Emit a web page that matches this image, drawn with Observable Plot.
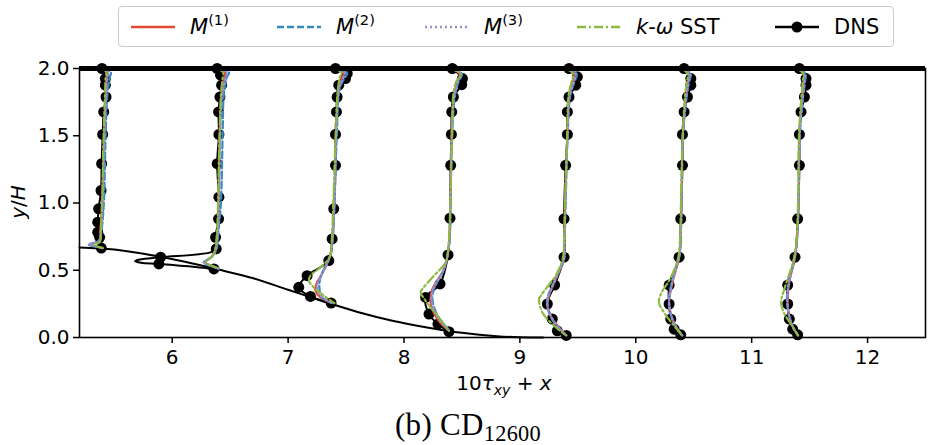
<!DOCTYPE html>
<html><head><meta charset="utf-8">
<script src="https://cdn.jsdelivr.net/npm/d3@7"></script>
<script src="https://cdn.jsdelivr.net/npm/@observablehq/plot@0.6"></script>
<style>
body{margin:0;background:#fff;font-family:"DejaVu Sans",sans-serif;}
#wrap{position:relative;width:930px;height:445px;overflow:hidden;background:#fff;}
#legend{position:absolute;left:118px;top:6px;width:776px;height:41px;border:1px solid #cccccc;border-radius:4px;box-sizing:border-box;background:#fff;}
.item{position:absolute;top:0;height:39px;display:flex;align-items:center;font-size:21px;color:#000;white-space:nowrap;}
.item svg{margin-right:15px;}
.sup{font-size:0.7em;position:relative;top:-0.55em;}
#chart{position:absolute;left:0;top:52px;}
#caption{position:absolute;left:0;width:936px;top:409px;line-height:31px;text-align:center;font-family:"Liberation Serif","DejaVu Serif",serif;font-size:31px;color:#000;letter-spacing:0.3px;}
#caption sub{font-size:0.72em;vertical-align:-0.28em;line-height:0;}
</style></head><body>
<div id="wrap"><div id="legend"></div><div id="chart"></div><div id="caption">(b) CD<sub>12600</sub></div></div>
<script>
// ---- data ----
const stations = [5.4, 6.4, 7.4, 8.4, 9.4, 10.4, 11.4];
const xTicks = [6, 7, 8, 9, 10, 11, 12];
const yTicks = [0, 0.5, 1, 1.5, 2];

// lower-wall geometry
const bumpX = [5.2, 5.5, 5.8, 6.1, 6.4, 6.7, 7.0, 7.3, 7.6, 7.9, 8.2, 8.5, 8.8, 9.0, 9.2];
const bumpY = [0.67, 0.655, 0.615, 0.565, 0.505, 0.44, 0.355, 0.27, 0.19, 0.125, 0.075, 0.035, 0.01, 0.002, 0];

// DNS profiles: [y, 10*tau_xy, marker]
const dnsProfiles = [
 [[2.0,-0.006,1],[1.925,0.023,1],[1.876,0.023,1],[1.788,0.029,1],[1.677,0.009,1],[1.51,0.0,1],[1.292,-0.009,1],[1.093,-0.014,1],[0.957,-0.035,1],[0.857,-0.043,1],[0.782,-0.043,1],[0.745,-0.026,1],[0.665,-0.012,1]],
 [[2.0,-0.012,1],[1.95,0.017,1],[1.876,0.026,1],[1.788,0.012,1],[1.677,0.0,1],[1.51,0.003,1],[1.292,-0.012,1],[1.043,0.003,1],[0.882,0.0,1],[0.745,-0.026,1],[0.659,-0.02,1],[0.633,-0.07,0],[0.597,-0.5,1],[0.58,-0.68,0],[0.568,-0.72,0],[0.556,-0.67,0],[0.547,-0.515,1],[0.525,-0.2,0],[0.51,-0.04,1]],
 [[2.0,0.009,1],[1.963,0.11,1],[1.925,0.095,1],[1.876,0.037,1],[1.788,0.023,1],[1.677,0.017,1],[1.51,0.009,1],[1.28,0.009,1],[0.957,-0.006,1],[0.733,-0.02,1],[0.572,-0.049,1],[0.46,-0.236,1],[0.373,-0.308,1],[0.305,-0.207,1],[0.256,-0.029,1]],
 [[2.0,0.017,1],[1.925,0.104,1],[1.88,0.098,1],[1.788,0.026,1],[1.677,0.012,1],[1.51,0.009,1],[1.28,0.003,1],[0.887,-0.003,1],[0.614,-0.02,1],[0.398,-0.089,1],[0.298,-0.213,1],[0.174,-0.184,1],[0.1,-0.107,1],[0.043,-0.012,1]],
 [[2.0,0.024,1],[1.938,0.096,1],[1.876,0.082,1],[1.788,0.024,1],[1.677,0.01,1],[1.51,0.01,1],[1.28,-0.005,1],[0.882,-0.019,1],[0.597,-0.019,1],[0.39,-0.1,1],[0.249,-0.163,1],[0.137,-0.12,1],[0.05,-0.077,1],[0.015,0.0,1]],
 [[2.0,0.017,1],[1.925,0.075,1],[1.876,0.075,1],[1.788,0.046,1],[1.677,0.017,1],[1.51,0.003,1],[1.28,0.003,1],[0.882,-0.012,1],[0.597,-0.026,1],[0.39,-0.112,1],[0.249,-0.112,1],[0.137,-0.098,1],[0.062,-0.069,1],[0.02,-0.012,1]],
 [[2.0,0.012,1],[1.925,0.069,1],[1.876,0.069,1],[1.788,0.055,1],[1.677,0.026,1],[1.51,0.012,1],[1.28,0.012,1],[0.882,-0.003,1],[0.597,-0.026,1],[0.39,-0.089,1],[0.249,-0.089,1],[0.137,-0.075,1],[0.062,-0.046,1],[0.02,-0.003,1]]
];

// M(1) profiles: [y, 10*tau_xy]
const m1Profiles = [
 [[2.0,-0.01],[1.975,0.04],[1.93,0.035],[1.8,0.025],[1.5,0.012],[1.0,-0.005],[0.8,-0.02],[0.72,-0.03],[0.69,-0.1],[0.678,-0.06],[0.665,0.0]],
 [[2.0,0.0],[1.97,0.06],[1.93,0.05],[1.8,0.025],[1.5,0.01],[1.0,0.0],[0.8,-0.01],[0.65,-0.03],[0.6,-0.06],[0.556,-0.12],[0.53,-0.05],[0.512,0.0]],
 [[2.0,0.0],[1.965,0.08],[1.92,0.06],[1.85,0.035],[1.5,0.012],[1.0,0.0],[0.7,-0.02],[0.6,-0.04],[0.473,-0.107],[0.398,-0.156],[0.348,-0.164],[0.298,-0.12],[0.256,-0.02]],
 [[2.0,0.0],[1.96,0.08],[1.9,0.06],[1.8,0.03],[1.5,0.01],[1.0,0.0],[0.7,-0.01],[0.51,-0.055],[0.36,-0.155],[0.26,-0.17],[0.137,-0.112],[0.05,-0.012]],
 [[2.0,0.0],[1.96,0.07],[1.9,0.06],[1.8,0.03],[1.5,0.01],[1.0,-0.01],[0.7,-0.015],[0.584,-0.019],[0.46,-0.077],[0.31,-0.149],[0.236,-0.163],[0.137,-0.12],[0.062,-0.048],[0.015,0.0]],
 [[2.0,0.0],[1.96,0.06],[1.9,0.05],[1.8,0.035],[1.5,0.005],[1.0,-0.005],[0.7,-0.015],[0.597,-0.026],[0.41,-0.083],[0.26,-0.112],[0.137,-0.083],[0.062,-0.04],[0.015,0.0]],
 [[2.0,0.0],[1.96,0.05],[1.9,0.05],[1.8,0.04],[1.5,0.012],[1.0,0.005],[0.7,-0.012],[0.597,-0.026],[0.41,-0.075],[0.26,-0.09],[0.137,-0.07],[0.062,-0.035],[0.015,0.0]]
];

// M(2) profiles
const m2Profiles = [
 [[2.0,0.0],[1.975,0.07],[1.93,0.06],[1.8,0.04],[1.5,0.025],[1.0,0.01],[0.8,-0.01],[0.72,-0.03],[0.69,-0.12],[0.678,-0.07],[0.665,0.0]],
 [[2.0,0.01],[1.97,0.09],[1.93,0.07],[1.8,0.045],[1.5,0.035],[1.0,0.02],[0.8,0.0],[0.65,-0.02],[0.6,-0.06],[0.556,-0.13],[0.53,-0.06],[0.512,0.0]],
 [[2.0,0.01],[1.965,0.11],[1.92,0.08],[1.85,0.045],[1.5,0.02],[1.0,0.0],[0.7,-0.02],[0.6,-0.04],[0.45,-0.12],[0.37,-0.13],[0.3,-0.11],[0.256,-0.02]],
 [[2.0,0.01],[1.96,0.1],[1.9,0.07],[1.8,0.04],[1.5,0.015],[1.0,0.0],[0.7,-0.01],[0.51,-0.055],[0.36,-0.141],[0.286,-0.155],[0.162,-0.11],[0.05,-0.005]],
 [[2.0,0.01],[1.96,0.09],[1.9,0.07],[1.8,0.035],[1.5,0.012],[1.0,-0.005],[0.7,-0.015],[0.584,-0.02],[0.44,-0.09],[0.3,-0.16],[0.22,-0.16],[0.12,-0.11],[0.05,-0.04],[0.015,0.0]],
 [[2.0,0.01],[1.96,0.075],[1.9,0.06],[1.8,0.04],[1.5,0.008],[1.0,-0.005],[0.7,-0.015],[0.597,-0.026],[0.41,-0.09],[0.26,-0.115],[0.137,-0.085],[0.062,-0.04],[0.015,0.0]],
 [[2.0,0.01],[1.96,0.065],[1.9,0.06],[1.8,0.045],[1.5,0.015],[1.0,0.005],[0.7,-0.012],[0.597,-0.03],[0.41,-0.08],[0.26,-0.095],[0.137,-0.07],[0.062,-0.035],[0.015,0.0]]
];

// M(3) profiles
const m3Profiles = [
 [[2.0,-0.005],[1.975,0.05],[1.93,0.04],[1.8,0.03],[1.5,0.015],[1.0,0.0],[0.8,-0.015],[0.72,-0.03],[0.69,-0.12],[0.678,-0.06],[0.665,0.0]],
 [[2.0,0.0],[1.97,0.07],[1.93,0.06],[1.8,0.03],[1.5,0.015],[1.0,0.005],[0.8,-0.005],[0.65,-0.025],[0.6,-0.06],[0.556,-0.125],[0.53,-0.05],[0.512,0.0]],
 [[2.0,0.0],[1.965,0.09],[1.92,0.07],[1.85,0.04],[1.5,0.015],[1.0,0.0],[0.7,-0.02],[0.6,-0.04],[0.46,-0.115],[0.38,-0.15],[0.32,-0.13],[0.256,-0.02]],
 [[2.0,0.0],[1.96,0.09],[1.9,0.065],[1.8,0.035],[1.5,0.012],[1.0,0.0],[0.7,-0.01],[0.51,-0.055],[0.36,-0.15],[0.27,-0.16],[0.15,-0.11],[0.05,-0.01]],
 [[2.0,0.0],[1.96,0.08],[1.9,0.065],[1.8,0.03],[1.5,0.01],[1.0,-0.008],[0.7,-0.015],[0.584,-0.02],[0.45,-0.085],[0.3,-0.155],[0.23,-0.16],[0.13,-0.115],[0.055,-0.045],[0.015,0.0]],
 [[2.0,0.0],[1.96,0.065],[1.9,0.055],[1.8,0.038],[1.5,0.006],[1.0,-0.005],[0.7,-0.015],[0.597,-0.026],[0.41,-0.085],[0.26,-0.112],[0.137,-0.085],[0.062,-0.04],[0.015,0.0]],
 [[2.0,0.0],[1.96,0.055],[1.9,0.055],[1.8,0.042],[1.5,0.013],[1.0,0.005],[0.7,-0.012],[0.597,-0.028],[0.41,-0.078],[0.26,-0.092],[0.137,-0.07],[0.062,-0.035],[0.015,0.0]]
];

// k-omega SST profiles
const sstProfiles = [
 [[2.0,-0.01],[1.975,0.03],[1.93,0.025],[1.8,0.02],[1.5,0.008],[1.0,-0.005],[0.8,-0.015],[0.71,-0.025],[0.69,-0.08],[0.675,-0.04],[0.665,0.0]],
 [[2.0,-0.01],[1.97,0.04],[1.93,0.035],[1.8,0.02],[1.5,0.008],[1.0,-0.005],[0.8,-0.012],[0.65,-0.03],[0.6,-0.06],[0.56,-0.11],[0.53,-0.05],[0.512,0.0]],
 [[2.0,-0.005],[1.97,0.06],[1.93,0.045],[1.85,0.03],[1.5,0.01],[1.0,-0.01],[0.7,-0.025],[0.6,-0.04],[0.522,-0.12],[0.46,-0.207],[0.42,-0.22],[0.373,-0.18],[0.31,-0.09],[0.256,0.0]],
 [[2.0,0.0],[1.96,0.09],[1.9,0.05],[1.8,0.025],[1.5,0.015],[1.0,0.0],[0.7,-0.015],[0.56,-0.04],[0.46,-0.141],[0.36,-0.242],[0.335,-0.256],[0.273,-0.213],[0.162,-0.112],[0.05,-0.012]],
 [[2.0,-0.005],[1.96,0.06],[1.9,0.045],[1.8,0.02],[1.5,0.008],[1.0,-0.01],[0.7,-0.02],[0.584,-0.03],[0.484,-0.077],[0.46,-0.09],[0.31,-0.22],[0.286,-0.235],[0.186,-0.206],[0.087,-0.105],[0.015,0.0]],
 [[2.0,-0.005],[1.96,0.05],[1.9,0.04],[1.8,0.025],[1.5,0.005],[1.0,-0.01],[0.7,-0.02],[0.57,-0.04],[0.41,-0.12],[0.385,-0.141],[0.323,-0.184],[0.26,-0.2],[0.186,-0.156],[0.087,-0.069],[0.015,0.0]],
 [[2.0,-0.005],[1.96,0.045],[1.9,0.04],[1.8,0.03],[1.5,0.008],[1.0,0.0],[0.7,-0.015],[0.57,-0.04],[0.41,-0.1],[0.36,-0.118],[0.3,-0.14],[0.26,-0.147],[0.18,-0.12],[0.087,-0.05],[0.015,0.0]]
];

const seriesLabels = ['<i>M</i><span class="sup">(1)</span>','<i>M</i><span class="sup">(2)</span>','<i>M</i><span class="sup">(3)</span>','<i>k</i>-<i>ω</i> SST','DNS'];

// ---- styling ----
const colors = {m1:"#E24A33", m2:"#348ABD", m3:"#988ED5", sst:"#8EBA42", dns:"#000000"};
const dashes = {m1:null, m2:"7,3", m3:"2,3", sst:"9,3,2,3", dns:null};
const keys = ["m1","m2","m3","sst","dns"];
const legendLeft = [131, 277, 425, 577, 775];

const toRows = (profiles) => profiles.flatMap((prof, i) => prof.map(p => ({s: i, x: stations[i] + p[1], y: p[0], m: p[2]})));
const bump = bumpX.map((x, i) => ({x, y: bumpY[i]}));
const dnsRows = toRows(dnsProfiles);
const lineOpts = (k) => ({x: "x", y: "y", z: "s", stroke: colors[k], strokeWidth: 2.2, curve: "catmull-rom", strokeDasharray: dashes[k] || undefined});

const chart = Plot.plot({
  width: 930, height: 360,
  marginTop: 16, marginBottom: 75, marginLeft: 79, marginRight: 5,
  x: {domain: [5.2, 12.5]},
  y: {domain: [0, 2]},
  style: {fontFamily: "DejaVu Sans", fontSize: "20px", color: "black", background: "white", overflow: "visible"},
  marks: [
    Plot.line(bump, {x: "x", y: "y", stroke: "black", strokeWidth: 2, curve: "monotone-x"}),
    Plot.line(dnsRows, {x: "x", y: "y", z: "s", stroke: "black", strokeWidth: 2, curve: "catmull-rom"}),
    Plot.dot(dnsRows.filter(d => d.m), {x: "x", y: "y", r: 5.5, fill: "black", stroke: "none"}),
    Plot.line(toRows(m1Profiles), lineOpts("m1")),
    Plot.line(toRows(m2Profiles), lineOpts("m2")),
    Plot.line(toRows(m3Profiles), lineOpts("m3")),
    Plot.line(toRows(sstProfiles), lineOpts("sst")),
    Plot.ruleY([2], {stroke: "black", strokeWidth: 5}),
    Plot.frame({stroke: "black", strokeWidth: 1.6}),
    Plot.axisX({ticks: xTicks, tickSize: 6, tickPadding: 6, strokeWidth: 1.5, label: null, tickFormat: d => String(d), fontSize: 20}),
    Plot.axisY({ticks: yTicks, tickSize: 6, tickPadding: 4, strokeWidth: 1.5, label: null, tickFormat: d => d.toFixed(1), fontSize: 20})
  ]
});
document.getElementById("chart").appendChild(chart);

// axis titles with sub/superscripts
const svg = d3.select(chart);
const xl = svg.append("text").attr("x", 504).attr("y", 338).attr("text-anchor", "middle")
  .attr("font-family", "DejaVu Sans").attr("font-size", 20).attr("fill", "black");
xl.append("tspan").text("10");
xl.append("tspan").attr("font-style", "italic").text("τ");
xl.append("tspan").attr("font-style", "italic").attr("font-size", 14).attr("dy", 5).text("xy");
xl.append("tspan").attr("dy", -5).text(" + ");
xl.append("tspan").attr("font-style", "italic").text("x");

const yl = svg.append("text").attr("transform", "translate(25,150) rotate(-90)").attr("text-anchor", "middle")
  .attr("font-family", "DejaVu Sans").attr("font-size", 20).attr("fill", "black");
yl.append("tspan").attr("font-style", "italic").text("y");
yl.append("tspan").text("/");
yl.append("tspan").attr("font-style", "italic").text("H");

// legend
const legend = document.getElementById("legend");
keys.forEach((k, i) => {
  const item = document.createElement("div");
  item.className = "item";
  item.style.left = (legendLeft[i] - 119) + "px";
  const sample = d3.create("svg").attr("width", 44).attr("height", 20);
  sample.append("line").attr("x1", 0).attr("x2", 44).attr("y1", 10).attr("y2", 10)
    .attr("stroke", colors[k]).attr("stroke-width", 2.5).attr("stroke-dasharray", dashes[k]);
  if (k === "dns") sample.append("circle").attr("cx", 22).attr("cy", 10).attr("r", 5.5).attr("fill", "black");
  item.appendChild(sample.node());
  const label = document.createElement("span");
  label.innerHTML = seriesLabels[i];
  item.appendChild(label);
  legend.appendChild(item);
});
</script>
</body></html>
